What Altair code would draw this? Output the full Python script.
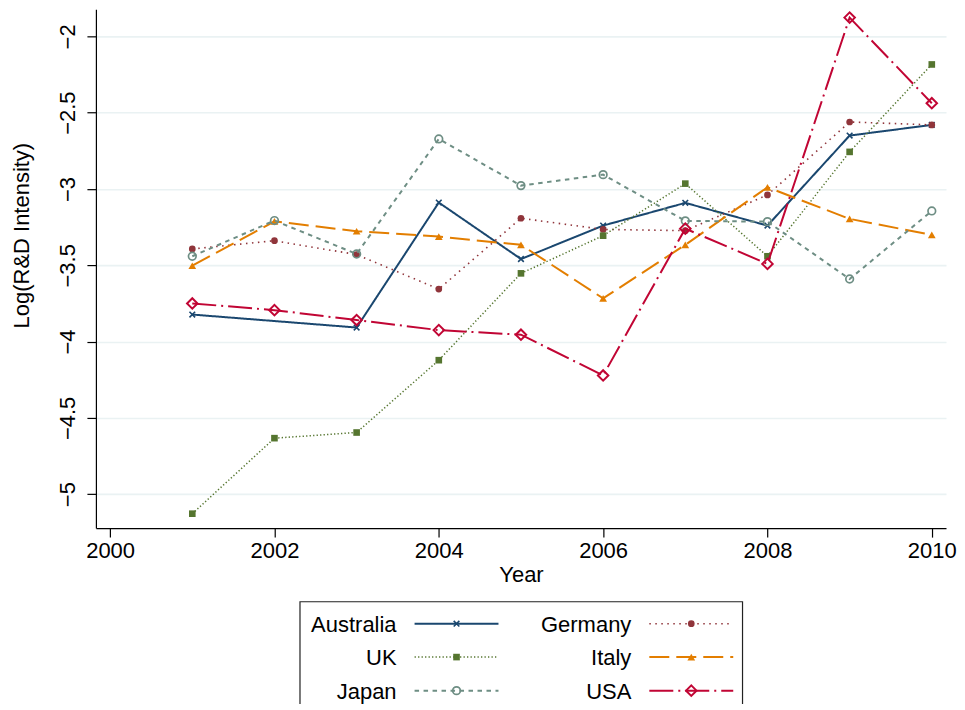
import altair as alt
import pandas as pd

# ---------------- data ----------------
years = [2001, 2002, 2003, 2004, 2005, 2006, 2007, 2008, 2009, 2010]
countries = ["Australia", "Germany", "UK", "Italy", "Japan", "USA"]

australia = [-3.823, None, -3.908, -3.089, -3.459, -3.240, -3.091, -3.240, -2.650, -2.580]
germany = [-3.393, -3.339, -3.430, -3.656, -3.192, -3.265, -3.273, -3.039, -2.561, -2.580]
uk = [-5.128, -4.633, -4.596, -4.122, -3.553, -3.306, -2.965, -3.441, -2.757, -2.184]
italy = [-3.503, -3.212, -3.277, -3.312, -3.366, -3.717, -3.366, -2.989, -3.196, -3.301]
japan = [-3.441, -3.207, -3.426, -2.672, -2.978, -2.906, -3.209, -3.214, -3.590, -3.144]
usa = [-3.750, -3.794, -3.859, -3.925, -3.955, -4.222, -3.260, -3.491, -1.877, -2.438]

series_values = [australia, germany, uk, italy, japan, usa]

x_ticks = [2000, 2002, 2004, 2006, 2008, 2010]
y_ticks = [-2, -2.5, -3, -3.5, -4, -4.5, -5]

# ---------------- styles ----------------
styles = {
    "Australia": dict(color="#1a476f", dash=[1, 0], lw=2.0,
                      shape="M-1,-1L1,1M-1,1L1,-1", filled=False, size=32, sw=1.6),
    "Germany": dict(color="#90353b", dash=[1.5, 4.5], lw=1.6,
                    shape="circle", filled=True, size=45, sw=1),
    "UK": dict(color="#55752f", dash=[1.3, 2.2], lw=1.5,
               shape="square", filled=True, size=44, sw=1),
    "Italy": dict(color="#e37e00", dash=[20, 7], lw=2.0,
                  shape="triangle-up", filled=True, size=60, sw=1),
    "Japan": dict(color="#6e8e84", dash=[4.5, 4.5], lw=2.0,
                  shape="circle", filled=False, size=58, sw=1.7),
    "USA": dict(color="#c10534", dash=[24, 5, 2, 5], lw=2.0,
                shape="diamond", filled=False, size=110, sw=2.0),
}

FS = 22
FONT = "Liberation Sans"

rows = []
for name, vals in zip(countries, series_values):
    for yr, v in zip(years, vals):
        if v is not None:
            rows.append({"country": name, "year": yr, "value": v})
df = pd.DataFrame(rows)

# ---------------- main plot ----------------
X_DOMAIN = [1999.827, 2010.173]
Y_DOMAIN = [-5.2225, -1.823]
PLOT_W, PLOT_H = 851.0, 519.3

x_enc = alt.X(
    "year:Q",
    scale=alt.Scale(domain=X_DOMAIN, nice=False, zero=False),
    axis=alt.Axis(
        values=x_ticks, format="d", title="Year", grid=False,
        tickSize=9, tickWidth=1.2, tickColor="black",
        domainColor="black", domainWidth=1.2,
        labelPadding=3, labelFontSize=FS, labelColor="black", labelFont=FONT,
        labelFlush=False, labelOverlap=False,
        titleFontSize=FS, titleFontWeight="normal", titleColor="black", titleFont=FONT,
        titleBaseline="top", titleY=36,
    ),
)
y_enc = alt.Y(
    "value:Q",
    scale=alt.Scale(domain=Y_DOMAIN, nice=False, zero=False),
    axis=alt.Axis(
        values=y_ticks, format="~g", title="Log(R&D Intensity)",
        grid=True, gridColor="#eaf2f3", gridWidth=1.6,
        tickSize=9, tickWidth=1.2, tickColor="black",
        domainColor="black", domainWidth=1.2,
        labelPadding=7, labelFontSize=FS, labelColor="black", labelFont=FONT,
        labelAngle=270, labelAlign="center", labelBaseline="bottom",
        labelFlush=False, labelOverlap=False,
        titleFontSize=FS, titleFontWeight="normal", titleColor="black", titleFont=FONT,
        titleAngle=270, titleAlign="center", titleBaseline="alphabetic",
        titleX=-67, titleY=226,
    ),
)

layers = []
for name in countries:
    st = styles[name]
    sub = df[df["country"] == name]
    base = alt.Chart(sub)
    layers.append(
        base.mark_line(color=st["color"], strokeDash=st["dash"], strokeWidth=st["lw"])
        .encode(x=x_enc, y=y_enc)
    )
    layers.append(
        base.mark_point(shape=st["shape"], filled=st["filled"], size=st["size"],
                        color=st["color"], strokeWidth=st["sw"], opacity=1)
        .encode(x=x_enc, y=y_enc)
    )

main = alt.layer(*layers).properties(width=PLOT_W, height=PLOT_H)

# ---------------- legend (drawn as its own small panel) ----------------
LEG_W, LEG_H = 443, 109.3
row_y = [22.3, 55.7, 89.3]
label_right = [97, 332]
sym_start = [115, 350]
SYM_LEN = 84

lx = alt.X("lx:Q", scale=alt.Scale(domain=[0, LEG_W], nice=False, zero=False), axis=None)
ly = alt.Y("ly:Q", scale=alt.Scale(domain=[0, LEG_H], nice=False, zero=False, reverse=True), axis=None)

leg_layers = []
for i, name in enumerate(countries):
    st = styles[name]
    col, row = i % 2, i // 2
    txt = pd.DataFrame([{"lx": label_right[col], "ly": row_y[row], "label": name}])
    seg = pd.DataFrame([
        {"lx": sym_start[col], "ly": row_y[row]},
        {"lx": sym_start[col] + SYM_LEN, "ly": row_y[row]},
    ])
    mid = pd.DataFrame([{"lx": sym_start[col] + SYM_LEN / 2, "ly": row_y[row]}])
    leg_layers.append(
        alt.Chart(txt).mark_text(align="right", baseline="middle", fontSize=FS,
                                 font=FONT, color="black", dy=1)
        .encode(x=lx, y=ly, text="label:N")
    )
    leg_layers.append(
        alt.Chart(seg).mark_line(color=st["color"], strokeDash=st["dash"], strokeWidth=st["lw"])
        .encode(x=lx, y=ly)
    )
    leg_layers.append(
        alt.Chart(mid).mark_point(shape=st["shape"], filled=st["filled"], size=st["size"],
                                  color=st["color"], strokeWidth=st["sw"], opacity=1)
        .encode(x=lx, y=ly)
    )

legend = alt.layer(*leg_layers).properties(
    width=LEG_W, height=LEG_H,
    view=alt.ViewBackground(stroke="#222222", strokeWidth=1.2),
)

chart = (
    alt.vconcat(main, legend, spacing=72.7, bounds="flush", center=True)
    .resolve_scale(x="independent", y="independent")
    .properties(padding={"left": 3, "top": 0, "right": 0, "bottom": -8})
    .configure(font=FONT)
    .configure_view(stroke=None)
)

chart.save("out.html", embed_options={"renderer": "svg", "actions": False})
